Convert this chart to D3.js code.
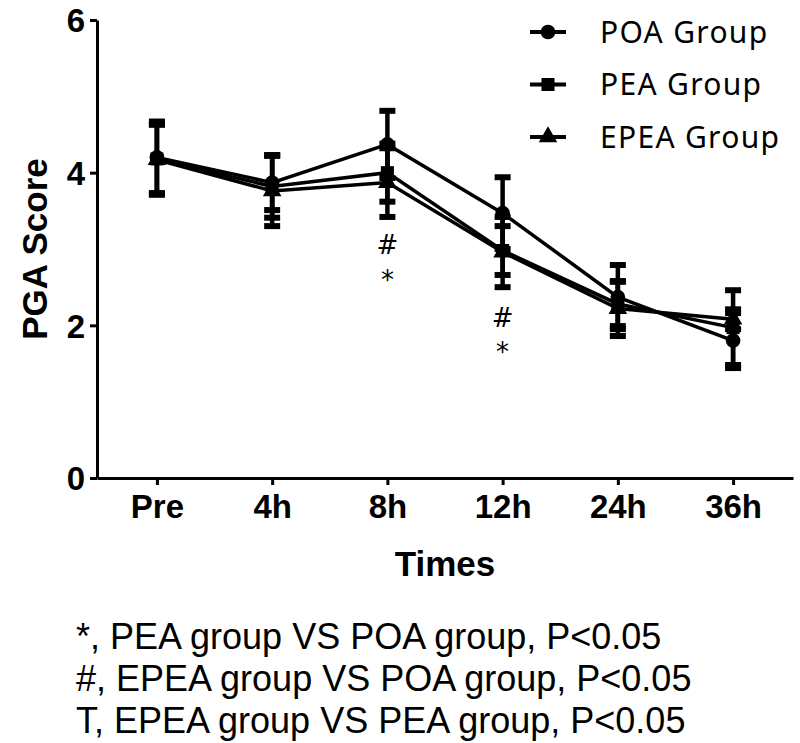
<!doctype html>
<html>
<head>
    <meta charset="UTF-8">
    <title>PGA Score</title>
    <script src="https://cdn.jsdelivr.net/npm/d3@7"></script>
    <style>
        body { margin: 0; background: #fff; }
        svg { display: block; }
        .axis path, .axis line { stroke: #000; stroke-width: 3; }
        .axis text { font-family: "Liberation Sans", Arial, sans-serif; font-weight: bold; font-size: 33px; fill: #000; }
    </style>
</head>
<body>
<svg class="chart" width="800" height="743"></svg>
<script>
    var times = ['Pre', '4h', '8h', '12h', '24h', '36h'];
    var groups = ['POA Group', 'PEA Group', 'EPEA Group'];
    var symbols = [d3.symbolCircle, d3.symbolSquare, d3.symbolTriangle];

    var poaMean = [4.20, 3.87, 4.37, 3.47, 2.37, 1.80];
    var poaSd   = [0.47, 0.36, 0.44, 0.47, 0.42, 0.36];
    var peaMean = [4.18, 3.82, 4.00, 2.98, 2.28, 1.97];
    var peaSd   = [0.45, 0.41, 0.38, 0.32, 0.29, 0.49];
    var epeaMean = [4.17, 3.76, 3.87, 2.96, 2.22, 2.08];
    var epeaSd   = [0.46, 0.46, 0.45, 0.46, 0.36, 0.13];

    // significance marks: [time, symbol, y value]
    var marks = [['8h', '#', 3.05], ['8h', '*', 2.60], ['12h', '#', 2.10], ['12h', '*', 1.65]];
    var notes = ['*, PEA group VS POA group, P<0.05', '#, EPEA group VS POA group, P<0.05', 'T, EPEA group VS PEA group, P<0.05'];

    var yTicks = [0, 2, 4, 6];

    var svg = d3.select('.chart');

    var x = d3.scalePoint().domain(times).range([97, 793]).padding(0.52);
    var y = d3.scaleLinear().domain([0, 6]).range([478, 20]);

    var series = [poaMean, peaMean, epeaMean].map(function (m, i) {
        var sd = [poaSd, peaSd, epeaSd][i];
        return times.map(function (t, j) {
            return {t: t, v: m[j], sd: sd[j], g: i};
        });
    });

    // axes
    svg.append('g').attr('class', 'axis')
        .attr('transform', 'translate(97,0)')
        .call(d3.axisLeft(y).tickValues(yTicks).tickFormat(d3.format('d')).tickSize(7).tickSizeOuter(0).tickPadding(5))
        .selectAll('text').attr('dy', '0.36em');

    svg.append('g').attr('class', 'axis')
        .attr('transform', 'translate(0,478)')
        .call(d3.axisBottom(x).tickSize(7).tickSizeOuter(0).tickPadding(10));

    svg.append('text')
        .attr('transform', 'translate(47,' + (y.range()[0] + y.range()[1]) / 2 + ') rotate(-90)')
        .attr('text-anchor', 'middle')
        .style('font-family', '"Liberation Sans", Arial, sans-serif')
        .style('font-weight', 'bold').style('font-size', '35px')
        .text('PGA Score');

    svg.append('text')
        .attr('x', (x('8h') + x('12h')) / 2).attr('y', 576)
        .attr('text-anchor', 'middle')
        .style('font-family', '"Liberation Sans", Arial, sans-serif')
        .style('font-weight', 'bold').style('font-size', '35px')
        .text('Times');

    var line = d3.line().x(function (d) { return x(d.t); }).y(function (d) { return y(d.v); });

    var plot = svg.append('g');

    series.forEach(function (s) {
        // error bars
        var eb = plot.append('g').selectAll('g').data(s).enter().append('g');
        eb.append('line')
            .attr('x1', function (d) { return x(d.t); }).attr('x2', function (d) { return x(d.t); })
            .attr('y1', function (d) { return y(d.v + d.sd); }).attr('y2', function (d) { return y(d.v - d.sd); })
            .attr('stroke', '#000').attr('stroke-width', 4.5);
        eb.append('rect')
            .attr('x', function (d) { return x(d.t) - 8; }).attr('y', function (d) { return y(d.v + d.sd) - 3; })
            .attr('width', 16).attr('height', 6).attr('fill', '#000');
        eb.append('rect')
            .attr('x', function (d) { return x(d.t) - 8; }).attr('y', function (d) { return y(d.v - d.sd) - 3; })
            .attr('width', 16).attr('height', 6).attr('fill', '#000');
    });

    series.forEach(function (s, i) {
        plot.append('path').datum(s)
            .attr('d', line).attr('fill', 'none')
            .attr('stroke', '#000').attr('stroke-width', 3.5);
        plot.append('g').selectAll('path').data(s).enter().append('path')
            .attr('d', d3.symbol().type(symbols[i]).size(i == 2 ? 150 : 170))
            .attr('transform', function (d) { return 'translate(' + x(d.t) + ',' + y(d.v) + ')'; })
            .attr('fill', '#000');
    });

    // significance marks
    svg.append('g').selectAll('text').data(marks).enter().append('text')
        .attr('x', function (d) { return x(d[0]); })
        .attr('y', function (d) { return y(d[2]); })
        .attr('text-anchor', 'middle').attr('dy', '0.35em')
        .style('font-family', '"DejaVu Sans", sans-serif').style('font-size', '26px')
        .text(function (d) { return d[1]; });

    // legend
    var leg = svg.append('g').selectAll('g').data(groups).enter().append('g')
        .attr('transform', function (d, i) { return 'translate(0,' + (32 + i * 52.5) + ')'; });
    leg.append('line').attr('x1', 530).attr('x2', 566).attr('y1', 0).attr('y2', 0)
        .attr('stroke', '#000').attr('stroke-width', 4);
    leg.append('path')
        .attr('d', function (d, i) { return d3.symbol().type(symbols[i]).size(i == 2 ? 150 : 170)(); })
        .attr('transform', 'translate(548,0)').attr('fill', '#000');
    leg.append('text').attr('x', 600).attr('dy', '0.35em')
        .style('font-family', '"Noto Sans", sans-serif').style('font-size', '30px')
        .attr('letter-spacing', '1.3px')
        .text(function (d) { return d; });

    // footnotes
    svg.append('g').selectAll('text').data(notes).enter().append('text')
        .attr('x', 76).attr('y', function (d, i) { return 636 + i * 42; })
        .attr('dy', '0.35em')
        .style('font-family', '"Liberation Sans", Arial, sans-serif').style('font-size', '36px')
        .text(function (d) { return d; });
</script>
</body>
</html>
